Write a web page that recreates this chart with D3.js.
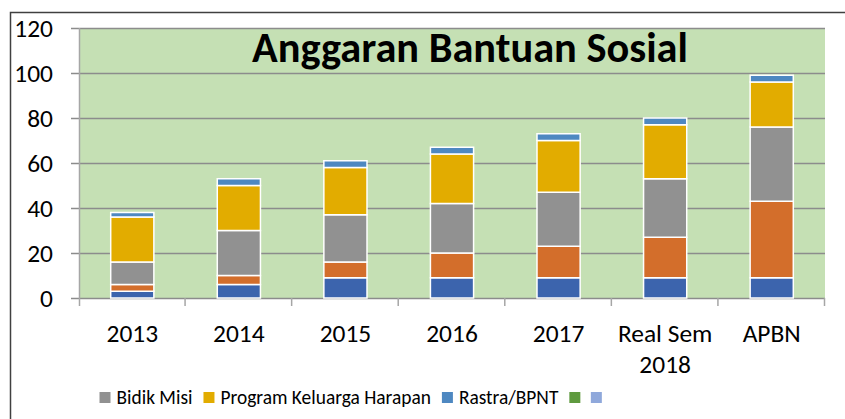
<!DOCTYPE html>
<html>
<head>
<meta charset="utf-8">
<script src="https://cdn.jsdelivr.net/npm/d3@7"></script>
<style>
html,body{margin:0;padding:0;background:#fff;}
svg{display:block;}
text{font-family:Carlito, Calibri, Lato, "Open Sans", sans-serif;}
</style>
</head>
<body>
<svg id="chart" width="845" height="419"></svg>
<script>
// ---- data ----
const categories = ["2013", "2014", "2015", "2016", "2017", "Real Sem 2018", "APBN"];
const seriesNames = ["Seri 1", "Seri 2", "Bidik Misi", "Program Keluarga Harapan", "Rastra/BPNT", "", ""];
const seri1 = [3, 6, 9, 9, 9, 9, 9];
const seri2 = [3, 4, 7, 11, 14, 18, 34];
const bidikMisi = [10, 20, 21, 22, 24, 26, 33];
const pkh = [20, 20, 21, 22, 23, 24, 20];
const rastra = [2, 3, 3, 3, 3, 3, 3];
const seri6 = [0, 0, 0, 0, 0, 0, 0];
const seri7 = [0, 0, 0, 0, 0, 0, 0];
const yTicks = [0, 20, 40, 60, 80, 100, 120];
const legendShown = [2, 3, 4, 5, 6];
const titleText = "Anggaran Bantuan Sosial";

// ---- style ----
const colors = ["#3C64AD", "#D36E2B", "#919191", "#E2AC00", "#4E88C1", "#5F9A3F", "#8FA8DB"];
const allSeries = [seri1, seri2, bidikMisi, pkh, rastra, seri6, seri7];

const svg = d3.select("#chart");
const W = 845, H = 419;
const plot = {left: 79, right: 825, top: 28, bottom: 298};

// font size fitting helper
function fitSize(str, targetW, weight) {
  const t = svg.append("text").attr("font-size", 20).attr("font-weight", weight || "normal").text(str);
  const w = t.node().getComputedTextLength();
  t.remove();
  return 20 * targetW / w;
}
const axisFont = fitSize("2013", 51.6);
const legendFont = fitSize("Bidik Misi", 76);
const titleFont = fitSize(titleText, 436, "bold");

// outer frame
svg.append("path")
  .attr("d", `M10.5,${H} L10.5,12.5 L${W},12.5`)
  .attr("fill", "none").attr("stroke", "#404040").attr("stroke-width", 1.5);

const x = d3.scaleBand().domain(categories).range([plot.left, plot.right]).paddingInner(0).paddingOuter(0);
const y = d3.scaleLinear().domain([0, 120]).range([plot.bottom, plot.top]);

// plot background
svg.append("rect").attr("x", plot.left).attr("y", plot.top)
  .attr("width", plot.right - plot.left).attr("height", plot.bottom - plot.top)
  .attr("fill", "#C5E0B4");

// gridlines
svg.append("g").selectAll("line").data(yTicks).join("line")
  .attr("x1", plot.left - 8).attr("x2", plot.right)
  .attr("y1", d => Math.round(y(d)) + 0.5).attr("y2", d => Math.round(y(d)) + 0.5)
  .attr("stroke", "#8C8C8C").attr("stroke-width", 1.5);

// y axis line
svg.append("line").attr("x1", plot.left + 0.5).attr("x2", plot.left + 0.5)
  .attr("y1", plot.top).attr("y2", plot.bottom + 8)
  .attr("stroke", "#A6A6A6").attr("stroke-width", 1.5);

// x axis category ticks
const bounds = categories.map(c => x(c)).concat([plot.right]);
svg.append("g").selectAll("line").data(bounds.slice(1)).join("line")
  .attr("x1", d => d - 0.5).attr("x2", d => d - 0.5)
  .attr("y1", plot.bottom).attr("y2", plot.bottom + 8)
  .attr("stroke", "#A6A6A6").attr("stroke-width", 1.5);

// y tick labels
svg.append("g").selectAll("text").data(yTicks).join("text")
  .attr("x", 53).attr("y", d => y(d)).attr("dy", "0.36em")
  .attr("text-anchor", "end").attr("font-size", axisFont).attr("fill", "#000")
  .text(d => d);

// stacked bars
const table = categories.map((c, i) => {
  const o = {cat: c};
  allSeries.forEach((s, k) => o["s" + k] = s[i]);
  return o;
});
const keys = allSeries.map((s, k) => "s" + k);
const stacked = d3.stack().keys(keys)(table);
const barW = x.bandwidth() * 0.405;
svg.append("g").selectAll("g").data(stacked).join("g")
  .attr("fill", (d, i) => colors[i])
  .selectAll("rect").data(d => d.filter(p => p[1] - p[0] > 0)).join("rect")
  .attr("x", d => x(d.data.cat) + (x.bandwidth() - barW) / 2)
  .attr("width", barW)
  .attr("y", d => y(d[1]))
  .attr("height", d => y(d[0]) - y(d[1]))
  .attr("stroke", "#fff").attr("stroke-width", 1.5);

// category labels
const xl = svg.append("g");
categories.forEach(c => {
  const words = c === "Real Sem 2018" ? ["Real Sem", "2018"] : [c];
  const t = xl.append("text").attr("text-anchor", "middle").attr("font-size", axisFont).attr("fill", "#000");
  words.forEach((w, i) => {
    t.append("tspan").attr("x", x(c) + x.bandwidth() / 2).attr("y", 341.5 + i * 31).text(w);
  });
});

// title
svg.append("text").attr("text-anchor", "middle")
  .attr("font-weight", "bold").attr("font-size", titleFont).attr("fill", "#000")
  .attr("x", 470).attr("y", 62).text(titleText);

// legend
const lg = svg.append("g");
let lx = 99.5;
legendShown.forEach(k => {
  lg.append("rect").attr("x", lx).attr("y", 392).attr("width", 11).attr("height", 11).attr("fill", colors[k]);
  lx += 17;
  if (seriesNames[k]) {
    const t = lg.append("text").attr("x", lx).attr("y", 403.5).attr("font-size", legendFont).attr("fill", "#000").text(seriesNames[k]);
    lx += t.node().getComputedTextLength() + 11;
  } else {
    lx += 4.5;
  }
});
</script>
</body>
</html>
